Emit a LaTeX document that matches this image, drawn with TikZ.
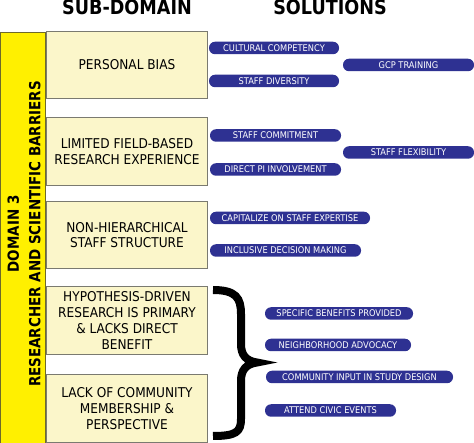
\documentclass[tikz,border=0pt]{standalone}
\usepackage{fontspec}
\setmainfont{DejaVu Sans}[FakeStretch=0.9]
\newfontfamily\hdrfont{DejaVu Sans}[FakeStretch=0.88]
\newfontfamily\pillfont{DejaVu Sans}[FakeStretch=0.9]
\definecolor{baryellow}{HTML}{FFF000}
\definecolor{barborder}{HTML}{6E6A2A}
\definecolor{boxfill}{HTML}{FBF6CA}
\definecolor{boxborder}{HTML}{7A7A70}
\definecolor{pillblue}{HTML}{2E3192}
\tikzset{
  hdr/.style={font=\hdrfont\bfseries\fontsize{20}{22}\selectfont, anchor=base, inner sep=0},
  subbox/.style={draw=boxborder, line width=1pt, fill=boxfill, anchor=north west,
    minimum width=161pt, align=center, inner sep=0,
    font=\fontsize{13.5}{15.8}\selectfont},
  pill/.style={fill=pillblue, text=white, rounded corners=6pt, minimum height=12.5pt,
    inner sep=0, font=\pillfont\fontsize{9.2}{10}\selectfont},
  bracestyle/.style={line width=8pt, line join=miter, line cap=butt}
}
\begin{document}
\begin{tikzpicture}[x=1pt, y=-1pt]
\useasboundingbox (0,0) rectangle (474,443);
\fill[white] (0,0) rectangle (474,443);
% headers
\node[hdr] (hsub) at (127,15) {SUB-DOMAIN};
\node[hdr] (hsol) at (330,15) {SOLUTIONS};
% yellow bar
\node[draw=barborder, line width=1pt, fill=baryellow, anchor=north west,
  minimum width=45pt, minimum height=413pt, inner sep=0] (bar) at (0,32) {};
\node[rotate=90, align=center, inner sep=0,
  font=\hdrfont\bfseries\fontsize{15.3}{21.5}\selectfont] (bartext) at (24,234)
  {DOMAIN 3\\RESEARCHER AND SCIENTIFIC BARRIERS};
% sub-domain boxes
\node[subbox, minimum height=67pt] (b1) at (46,31) {PERSONAL BIAS};
\node[subbox, minimum height=68pt] (b2) at (46,117) {LIMITED FIELD-BASED\\RESEARCH EXPERIENCE};
\node[subbox, minimum height=67pt] (b3) at (46,201) {NON-HIERARCHICAL\\STAFF STRUCTURE};
\node[subbox, minimum height=68pt] (b4) at (46,286) {HYPOTHESIS-DRIVEN\\RESEARCH IS PRIMARY\\\&\ LACKS DIRECT\\BENEFIT};
\node[subbox, minimum height=68pt] (b5) at (46,374) {LACK OF COMMUNITY\\MEMBERSHIP \&\\PERSPECTIVE};
% solution pills
\node[pill, minimum width=130pt] (p1) at (274,48) {CULTURAL COMPETENCY};
\node[pill, minimum width=131pt] (p2) at (408.5,65) {GCP TRAINING};
\node[pill, minimum width=130pt] (p3) at (274,81) {STAFF DIVERSITY};
\node[pill, minimum width=131pt] (p4) at (275.5,135.5) {STAFF COMMITMENT};
\node[pill, minimum width=131pt] (p5) at (408.5,152.5) {STAFF FLEXIBILITY};
\node[pill, minimum width=131pt] (p6) at (275.5,169.5) {DIRECT PI INVOLVEMENT};
\node[pill, minimum width=160pt] (p7) at (290,218) {CAPITALIZE ON STAFF EXPERTISE};
\node[pill, minimum width=151pt] (p8) at (285.5,250.5) {INCLUSIVE DECISION MAKING};
\node[pill, minimum width=148pt] (p9) at (339,313.5) {SPECIFIC BENEFITS PROVIDED};
\node[pill, minimum width=146pt] (p10) at (338,345) {NEIGHBORHOOD ADVOCACY};
\node[pill, minimum width=187pt] (p11) at (359.5,377) {COMMUNITY INPUT IN STUDY DESIGN};
\node[pill, minimum width=131pt] (p12) at (330.5,410.5) {ATTEND CIVIC EVENTS};
% brace
\draw[bracestyle] (213,290) .. controls (236,290) and (241,298) .. (241,314)
  -- (241,344) .. controls (241,355) and (246,361) .. (257,362.5)
  .. controls (246,364) and (241,370) .. (241,381)
  -- (241,419) .. controls (241,432) and (236,436) .. (213,436);
\end{tikzpicture}
\end{document}
